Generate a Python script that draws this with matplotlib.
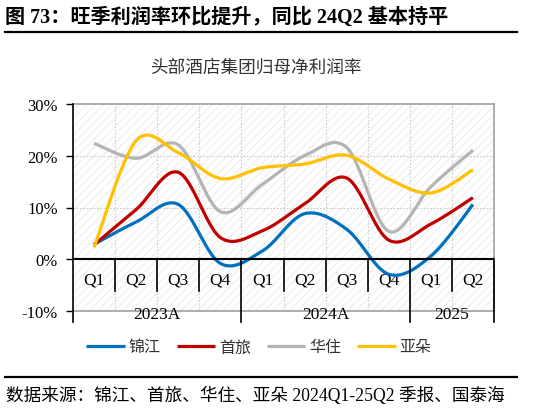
import numpy as np
import matplotlib
matplotlib.use("Agg")
import matplotlib.pyplot as plt
from matplotlib.lines import Line2D

quarters = ["Q1", "Q2", "Q3", "Q4", "Q1", "Q2", "Q3", "Q4", "Q1", "Q2"]
years = ["2023A", "2024A", "2025"]
year_spans = [4, 4, 2]
series_names = ["锦江", "首旅", "华住", "亚朵"]
jinjiang = [2.9, 7.2, 10.6, -0.8, 1.6, 8.8, 5.8, -2.9, 0.6, 10.6]
shoulv = [2.8, 9.6, 16.8, 4.2, 5.5, 10.7, 15.7, 3.7, 6.8, 11.9]
huazhu = [22.4, 19.5, 22.1, 9.2, 14.5, 20.0, 21.6, 5.4, 14.0, 21.1]
yaduo = [2.3, 22.9, 20.6, 15.6, 17.7, 18.4, 20.1, 15.5, 12.8, 17.3]
yticks = [-10, 0, 10, 20, 30]
colors = ["#0070C0", "#C00000", "#B4B4B4", "#FFC000"]

SERIF = ["Liberation Serif", "Noto Sans CJK SC"]
CJK = ["Noto Sans CJK SC", "DejaVu Sans"]


def smooth(xs, ys, n=30):
    xs = np.asarray(xs, float)
    ys = np.asarray(ys, float)
    P = np.column_stack([xs, ys])
    out = [P[0]]
    for i in range(len(P) - 1):
        p0 = P[i - 1] if i > 0 else P[i]
        p1 = P[i]
        p2 = P[i + 1]
        p3 = P[i + 2] if i + 2 < len(P) else P[i + 1]
        c1 = p1 + (p2 - p0) / 6.0
        c2 = p2 - (p3 - p1) / 6.0
        t = np.linspace(0, 1, n)[1:, None]
        seg = ((1 - t) ** 3) * p1 + 3 * ((1 - t) ** 2) * t * c1 + 3 * (1 - t) * t ** 2 * c2 + t ** 3 * p2
        out.extend(seg)
    out = np.array(out)
    return out[:, 0], out[:, 1]


fig = plt.figure(figsize=(5.34, 4.10), dpi=100)
W, H = 534, 410

# header
fig.text(5 / W, 1 - 18 / H, "图 73：旺季利润率环比提升，同比 24Q2 基本持平",
         family=SERIF, fontweight="bold", fontsize=14.5, ha="left", va="center")
fig.add_artist(Line2D([5 / W, 517 / W], [1 - 33 / H, 1 - 33 / H], color="black", lw=1.6))
fig.text(256 / W, 1 - 68 / H, "头部酒店集团归母净利润率", family=CJK, fontsize=12.7,
         color="#333333", ha="center", va="center")

ax = fig.add_axes([73 / W, 1 - 312 / H, (494 - 73) / W, (312 - 105) / H])
n = len(quarters)
ax.set_xlim(0, n)
ax.set_ylim(-10, 30)

# hatched background
ax.fill_between([0, n], -10, 30, facecolor="white", edgecolor="#F0F0F0", hatch="////", lw=0, zorder=0)

ax.set_yticks(yticks)
ax.set_yticklabels([f"{v}%" for v in yticks], family=SERIF, fontsize=12)
ax.set_xticks([])
ax.tick_params(axis="y", length=5, width=1, color="black", pad=6)

for v in [10, 20]:
    ax.axhline(v, color="#C8C8C8", lw=0.8, ls=(0, (1.5, 1.5)), zorder=1)
for i in range(1, n):
    ax.axvline(i, color="#D0D0D0", lw=0.8, ls=(0, (1.5, 1.5)), zorder=1)

for s in ["top", "right", "bottom"]:
    ax.spines[s].set_color("#A0A0A0")
    ax.spines[s].set_linewidth(1.2)
ax.spines["left"].set_visible(False)

# axis line and category axis
ax.plot([0, 0], [30, -12.2], color="black", lw=1.2, clip_on=False, zorder=5)
ax.axhline(0, color="black", lw=1.5, zorder=4)
bounds = np.cumsum(year_spans)
for i in range(1, n + 1):
    if i in bounds:
        ax.plot([i, i], [0, -12.2], color="black", lw=1.2, clip_on=False, zorder=5)
    else:
        ax.plot([i, i], [0, -6.2], color="black", lw=1.2, clip_on=False, zorder=5)
for i, q in enumerate(quarters):
    ax.text(i + 0.5, -3.9, q, family=SERIF, fontsize=12.5, ha="center", va="center")
start = 0
for y, sp in zip(years, year_spans):
    ax.text(start + sp / 2, -10.6, y, family=SERIF, fontsize=12.5, ha="center", va="center", zorder=6)
    start += sp

xs = np.arange(n) + 0.5
for name, vals, c in zip(series_names, [jinjiang, shoulv, huazhu, yaduo], colors):
    sx, sy = smooth(xs, vals)
    ax.plot(sx, sy, color=c, lw=2.3, label=name, zorder=3, solid_capstyle="butt")

leg = fig.legend(loc="center", bbox_to_anchor=(259 / W, 1 - 348 / H), ncol=4, frameon=False,
                 prop={"family": CJK, "size": 11.5}, handlelength=2.4, handletextpad=0.25,
                 columnspacing=1.0, borderpad=0, borderaxespad=0)
for t in leg.get_texts():
    t.set_color("#333333")

fig.add_artist(Line2D([5 / W, 517 / W], [1 - 378 / H, 1 - 378 / H], color="black", lw=1.6))
fig.text(6 / W, 1 - 396 / H, "数据来源：锦江、首旅、华住、亚朵 2024Q1-25Q2 季报、国泰海",
         family=SERIF, fontsize=12.7, ha="left", va="center")

fig.savefig("out.png", dpi=100)
